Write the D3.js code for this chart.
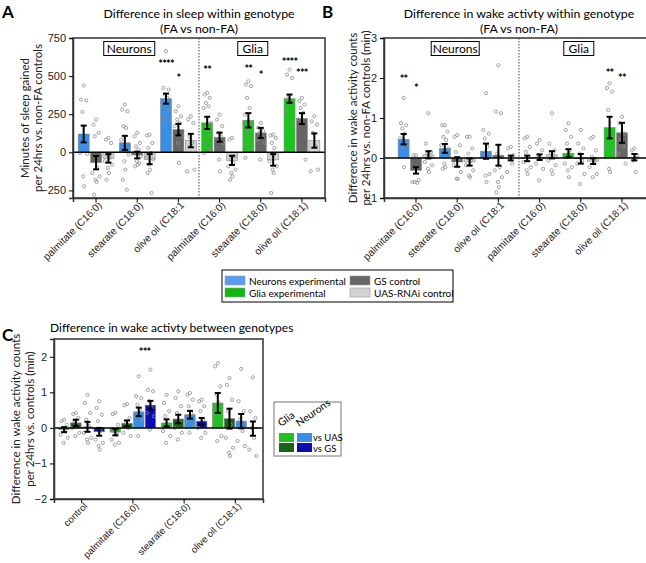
<!DOCTYPE html>
<html>
<head>
<meta charset="utf-8">
<script src="https://cdn.jsdelivr.net/npm/d3@7"></script>
<style>
body { margin: 0; background: #fff; }
svg { font-family: Lato, "Open Sans", sans-serif; }
</style>
</head>
<body>
<script>
var width = 646,
    height = 563;

// ---- data: panels A and B ----
var groupLabels = ["palmitate (C16:0)", "stearate (C18:0)", "olive oil (C18:1",
                   "palmitate (C16:0)", "stearate (C18:0)", "olive oil (C18:1)"];
var barSeries = ["experimental", "GS control", "UAS-RNAi control"];

var sleepMean = [[120, -68, -40], [62, -18, -45], [352, 149, 77], [193, 99, -53], [210, 127, -50], [352, 221, 77]];
var sleepSem = [[55, 44, 28], [46, 22, 33], [33, 38, 44], [40, 30, 30], [47, 33, 38], [27, 36, 47]];
var sleepPoints = [
  [[438, 346, 340, 265, 55, -5, -10, -158, -223],
   [215, 182, 127, 105, -103, -136, -158, -180, -195, -278],
   [94, 83, 61, -15, -37, -59, -81, -103, -136, -180]],
  [[313, 280, 269, 171, 160, 83, -15, -59, -114, -180, -245],
   [127, 105, 61, 39, 18, -4, -26, -59, -81, -92, -70],
   [116, 110, 61, 28, -4, -37, -48, -81, -114, -136, -267]],
  [[664, 423, 412, 379, 357, 324, 280, 215],
   [302, 269, 236, 215, 193, 171, 105, 61, -70],
   [236, 215, 193, 105, 61, -125, -114]],
  [[390, 379, 357, 324, 302, 291, 193, 149, 105, 61, 18, -4],
   [247, 215, 171, 127, 105, 83, 61, -48, -125],
   [94, 83, -26, -48, -70, -92, -114, -136, -158, -180]],
  [[466, 445, 434, 357, 291, 247, 193, 149, 105, 61, 18, -37],
   [193, 160, 138, 127, 105, 83, 61, -48],
   [116, 110, 94, 61, 28, -59, -92, -114, -136, -267]],
  [[543, 510, 488, 368, 324, 269, 193],
   [357, 335, 313, 291, 258, 215, -48],
   [236, 204, 182, 127, 39, -125, -114]]
];
// [group, bar, label, value]
var sleepStars = [[2, 0, "****", 590], [2, 1, "*", 500], [3, 0, "**", 555], [4, 0, "**", 560],
                  [4, 1, "*", 520], [5, 0, "****", 605], [5, 1, "***", 535]];

var wakeMean = [[0.47, -0.31, 0.08], [0.24, -0.1, -0.1], [0.17, 0.07, 0], [-0.01, 0.02, 0.08], [0.12, -0.02, -0.08], [0.76, 0.63, 0.02]];
var wakeSem = [[0.13, 0.08, 0.09], [0.11, 0.12, 0.09], [0.19, 0.26, 0.06], [0.07, 0.07, 0.09], [0.1, 0.12, 0.07], [0.27, 0.25, 0.08]];
var wakePoints = [
  [[1.5, 0.87, 0.82, 0.74, 0.61, 0.49, 0.36, 0.28, -0.23],
   [0.07, 0.07, -0.55, -0.6, -0.62, -0.6],
   [1.12, 0.36, 0.15, 0.11, 0.03, -0.1, -0.18, -0.27, -0.35]],
  [[0.82, 0.82, 0.66, 0.53, 0.45, 0.32, 0.24, -0.14, -0.23, -0.27],
   [0.57, 0.53, 0.32, 0.15, -0.02, -0.18, -0.35, -0.52, -0.52],
   [0.53, 0.53, 0.24, 0.11, -0.06, -0.18, -0.31, -0.44, -0.48]],
  [[1.62, 0.7, 0.61, 0.49, 0.28, 0.07, -0.4, -0.44, -0.6],
   [2.32, 1.16, 1.12, 0.11, -0.23, -0.31, -0.48, -0.6, -0.73, -0.86],
   [0.28, 0.24, 0.07, -0.02, -0.14, -0.35]],
  [[0.53, 0.49, 0.28, 0.15, 0.03, -0.1, -0.23, -0.31, -0.4],
   [0.45, 0.36, 0.19, 0.07, -0.02, -0.14, -0.27, -0.56],
   [1.12, 0.36, 0.19, 0.11, 0.07, -0.06, -0.18, -0.31, -0.4]],
  [[0.87, 0.7, 0.53, 0.36, 0.19, -0.14, -0.23, -0.31, -0.48],
   [0.7, 0.36, 0.24, 0.11, -0.06, -0.14, -0.4, -0.65],
   [0.53, 0.49, 0.19, 0.03, -0.1, -0.23, -0.4, -0.48]],
  [[1.87, 1.75, 1.66, 1.2, 0.53, 0.28, 0.15, -0.27, -0.35],
   [1.03, 0.87, 0.61, 0.45, 0.28, 0.11, -0.14],
   [0.24, 0.19, 0.07, -0.06, -0.35]]
];
var wakeStars = [[0, 0, "**", 2.02], [0, 1, "*", 1.8], [5, 0, "**", 2.17], [5, 1, "**", 2.05]];

// ---- data: panel C ----
var compLabels = ["control", "palmitate (C16:0)", "stearate (C18:0)", "olive oil (C18:1)"];
var compSeries = ["Glia vs UAS", "Glia vs GS", "Neurons vs UAS", "Neurons vs GS"];
var compMean = [[-0.05, 0.14, 0.03, -0.11], [-0.12, 0.13, 0.45, 0.64], [0.14, 0.25, 0.37, 0.19], [0.7, 0.26, 0.19, -0.02]];
var compSem = [[0.07, 0.09, 0.14, 0.11], [0.09, 0.08, 0.12, 0.12], [0.1, 0.12, 0.11, 0.09], [0.28, 0.28, 0.2, 0.2]];
var compPoints = [
  [[0.23, 0.19, 0.09, 0, -0.09, -0.19, -0.28, -0.42],
   [0.42, 0.39, 0.28, 0.19, 0.09, 0, -0.14, -0.23],
   [0.93, 0.7, 0.42, 0.23, 0.05, -0.14, -0.28, -0.33, -0.42],
   [0.75, 0.56, 0.37, 0.19, -0.09, -0.33, -0.42, -0.51, -0.61]],
  [[0.42, 0.39, 0.09, -0.09, -0.19, -0.33, -0.42, -0.47],
   [0.67, 0.64, 0.28, 0.14, 0, -0.14, -0.23],
   [1.45, 0.89, 0.84, 0.65, 0.51, 0.37, 0.23, -0.23],
   [1.64, 1.07, 1.03, 0.75, 0.56, 0.42, 0.33, -0.05]],
  [[0.93, 0.7, 0.47, 0.33, 0.09, -0.09, -0.23, -0.42],
   [1.03, 0.84, 0.61, 0.42, 0.19, 0, -0.14, -0.33],
   [0.98, 0.93, 0.79, 0.61, 0.42, 0.19, 0.05, -0.14],
   [0.79, 0.75, 0.61, 0.47, 0.23, 0, -0.14, -0.28]],
  [[1.82, 1.73, 1.17, 0.93, 0.7, 0.33, -0.23, -0.37],
   [1.4, 1.21, 0.79, 0.47, 0.09, -0.28, -0.56, -0.7, -0.79],
   [1.66, 0.75, 0.47, 0.23, -0.09, -0.37, -0.51],
   [1.42, 0.47, 0.28, 0, -0.28, -0.61, -0.79]]
];
var compStars = [[1, 2.5, "***", 2.2]];

var neuronBlue = "#3a8ee6", gliaGreen = "#1ec41e", gsGray = "#666666", uasGray = "#d3d3d3";
var compColors = ["#22c022", "#1a641a", "#3a8ee6", "#0c0cb4"];

var svg = d3.select("body").append("svg")
    .attr("width", width)
    .attr("height", height);

function jitter(i) {
  var p = [0, -2.6, 2.6, -1.3, 1.3, -3.6, 3.6, -0.5, 0.5, -2, 2, -3, 3];
  return p[i % p.length];
}

function drawAxes(g, x, y, labels, yTicks, left, right, top, bottom, labelSize) {
  g.append("rect")
      .attr("x", left).attr("y", top)
      .attr("width", right - left).attr("height", bottom - top)
      .attr("fill", "none").attr("stroke", "#333").attr("stroke-width", 1.5);

  var ya = g.append("g")
      .attr("transform", "translate(" + left + ",0)")
      .call(d3.axisLeft(y).tickValues(yTicks).tickSize(4).tickFormat(d3.format("d")));
  ya.select(".domain").attr("stroke", "#333").attr("stroke-width", 1.5);
  ya.selectAll("text").style("font-size", "11px").attr("fill", "#222");

  var xa = g.append("g")
      .attr("transform", "translate(0," + bottom + ")")
      .call(d3.axisBottom(x).tickSize(4).tickFormat(function(d) { return labels[d]; }));
  xa.select(".domain").attr("stroke", "#333").attr("stroke-width", 1.5);
  xa.selectAll("text")
      .style("font-size", labelSize + "px").attr("fill", "#222")
      .attr("text-anchor", "end")
      .attr("dx", "-0.1em").attr("dy", "0.3em")
      .attr("transform", "rotate(-45)");
}

function drawBars(g, x, y, means, sems, points, colorOf, barStep, barW, nBars) {
  var x0 = function(gi, bi) { return x(gi) + x.bandwidth() / 2 + (bi - (nBars - 1) / 2) * barStep; };
  var flat = [];
  means.forEach(function(row, gi) {
    row.forEach(function(m, bi) {
      flat.push({g: gi, b: bi, m: m, s: sems[gi][bi], pts: points[gi][bi]});
    });
  });
  g.selectAll(".bar").data(flat).enter().append("rect")
      .attr("x", function(d) { return x0(d.g, d.b) - barW / 2; })
      .attr("y", function(d) { return y(Math.max(0, d.m)); })
      .attr("width", barW)
      .attr("height", function(d) { return Math.abs(y(d.m) - y(0)); })
      .attr("fill", function(d) { return colorOf(d.g, d.b); })
      .attr("stroke", "#8a8a8a").attr("stroke-width", 0.6);

  flat.forEach(function(d) {
    g.selectAll(null).data(d.pts).enter().append("circle")
        .attr("cx", function(v, i) { return x0(d.g, d.b) + jitter(i); })
        .attr("cy", function(v) { return y(v); })
        .attr("r", 1.6)
        .attr("fill", "none").attr("stroke", "#8c8c8c").attr("stroke-width", 0.8);
  });

  var eb = g.selectAll(".err").data(flat).enter().append("g");
  eb.append("line")
      .attr("x1", function(d) { return x0(d.g, d.b); })
      .attr("x2", function(d) { return x0(d.g, d.b); })
      .attr("y1", function(d) { return y(d.m - d.s); })
      .attr("y2", function(d) { return y(d.m + d.s); })
      .attr("stroke", "#000").attr("stroke-width", 2);
  [-1, 1].forEach(function(sign) {
    eb.append("line")
        .attr("x1", function(d) { return x0(d.g, d.b) - 3; })
        .attr("x2", function(d) { return x0(d.g, d.b) + 3; })
        .attr("y1", function(d) { return y(d.m + sign * d.s); })
        .attr("y2", function(d) { return y(d.m + sign * d.s); })
        .attr("stroke", "#000").attr("stroke-width", 2);
  });
  return x0;
}

function drawStars(g, x0, y, stars) {
  g.selectAll(".star").data(stars).enter().append("text")
      .attr("x", function(d) { return x0(d[0], d[1]); })
      .attr("y", function(d) { return y(d[3]) + 6; })
      .attr("text-anchor", "middle")
      .style("font-size", "11px").style("font-weight", "bold")
      .style("letter-spacing", "-0.8px")
      .text(function(d) { return d[2]; });
}

function labelBox(g, cx, cy, w, text) {
  g.append("rect").attr("x", cx - w / 2).attr("y", cy - 7).attr("width", w).attr("height", 14)
      .attr("fill", "#fff").attr("stroke", "#000").attr("stroke-width", 1);
  g.append("text").attr("x", cx).attr("y", cy + 4.5).attr("text-anchor", "middle")
      .style("font-size", "12px").text(text);
}

function yTitle(g, x, y, lines, gap) {
  lines.forEach(function(t, i) {
    g.append("text")
        .attr("transform", "translate(" + (x + i * gap) + "," + y + ") rotate(-90)")
        .attr("text-anchor", "middle")
        .style("font-size", "11.5px").attr("fill", "#222")
        .text(t);
  });
}

function withinPanel(opt) {
  var g = svg.append("g");
  var x = d3.scaleBand().domain(d3.range(6)).range([opt.left, opt.right]).paddingOuter(opt.pad).paddingInner(0);
  var y = d3.scaleLinear().domain(opt.domain).range([opt.bottom, opt.top]);
  var colorOf = function(gi, bi) {
    if (bi === 0) return gi < 3 ? neuronBlue : gliaGreen;
    return bi === 1 ? gsGray : uasGray;
  };
  var x0 = drawBars(g, x, y, opt.mean, opt.sem, opt.points, colorOf, 12.4, 11, 3);
  g.append("line").attr("x1", opt.left).attr("x2", opt.right)
      .attr("y1", y(0)).attr("y2", y(0)).attr("stroke", "#000").attr("stroke-width", 1.5);
  var mid = (x(2) + x.bandwidth() + x(3)) / 2;
  g.append("line").attr("x1", mid).attr("x2", mid).attr("y1", opt.top).attr("y2", opt.bottom)
      .attr("stroke", "#444").attr("stroke-width", 1).attr("stroke-dasharray", "1.5,1.5");
  drawAxes(g, x, y, groupLabels, opt.ticks, opt.left, opt.right, opt.top, opt.bottom, 10.2);
  drawStars(g, x0, y, opt.stars);
  labelBox(g, x(1) + x.bandwidth() / 2 + opt.boxShift, 48.5, opt.nw, "Neurons");
  labelBox(g, x(4) + x.bandwidth() / 2 + opt.boxShift, 48.5, 30, "Glia");
  g.append("text").attr("x", opt.letterX).attr("y", 18).style("font-size", "17px")
      .style("font-weight", "bold").text(opt.letter);
  g.append("text").attr("x", mid).attr("y", 18).attr("text-anchor", "middle")
      .style("font-size", "12.3px").text(opt.title);
  g.append("text").attr("x", mid).attr("y", 33).attr("text-anchor", "middle")
      .style("font-size", "12.3px").text("(FA vs non-FA)");
  yTitle(g, opt.ylabX, (opt.top + opt.bottom) / 2, opt.ylab, 13);
}

withinPanel({
  left: 73, right: 325, top: 38, bottom: 198, pad: 0.06, domain: [-300, 750],
  ticks: [-250, 0, 250, 500, 750], mean: sleepMean, sem: sleepSem, points: sleepPoints,
  stars: sleepStars, boxShift: -8, nw: 51, letter: "A", letterX: 2,
  title: "Difference in sleep within genotype",
  ylab: ["Minutes of sleep gained", "per 24hrs vs. non-FA controls"], ylabX: 29
});

withinPanel({
  left: 384, right: 654, top: 38, bottom: 198, pad: 0.277, domain: [-1, 3],
  ticks: [-1, 0, 1, 2, 3], mean: wakeMean, sem: wakeSem, points: wakePoints,
  stars: wakeStars, boxShift: -2, nw: 48, letter: "B", letterX: 322,
  title: "Difference in wake activty within genotype",
  ylab: ["Difference in wake activity counts", "per 24hrs vs. non-FA controls (min)"], ylabX: 357
});

// ---- legend for A/B ----
var legAB = svg.append("g");
legAB.append("rect").attr("x", 222).attr("y", 270).attr("width", 231).attr("height", 32)
    .attr("fill", "#fff").attr("stroke", "#000").attr("stroke-width", 1);
var legItems = [["Neurons experimental", "#5a9cf0", 225, 276], ["GS control", gsGray, 350, 276],
                ["Glia experimental", "#12b812", 225, 288], ["UAS-RNAi control", uasGray, 350, 288]];
legItems.forEach(function(d) {
  legAB.append("rect").attr("x", d[2]).attr("y", d[3]).attr("width", 20).attr("height", 9)
      .attr("fill", d[1]).attr("stroke", "#999").attr("stroke-width", 0.6);
  legAB.append("text").attr("x", d[2] + 24).attr("y", d[3] + 8.5)
      .style("font-size", "10px").text(d[0]);
});

// ---- panel C ----
(function() {
  var left = 54, right = 263, top = 339, bottom = 499;
  var g = svg.append("g");
  var x = d3.scaleBand().domain(d3.range(4)).range([left, right]).paddingOuter(0.04).paddingInner(0);
  var y = d3.scaleLinear().domain([-2, 2.5]).range([bottom, top]);
  var x0 = drawBars(g, x, y, compMean, compSem, compPoints,
      function(gi, bi) { return compColors[bi]; }, 11.7, 10.5, 4);
  g.append("line").attr("x1", left).attr("x2", right)
      .attr("y1", y(0)).attr("y2", y(0)).attr("stroke", "#000").attr("stroke-width", 1.5);
  drawAxes(g, x, y, compLabels, [-2, -1, 0, 1, 2], left, right, top, bottom, 9.6);
  drawStars(g, x0, y, compStars);
  g.append("text").attr("x", 2).attr("y", 341).style("font-size", "17px")
      .style("font-weight", "bold").text("C");
  g.append("text").attr("x", 50).attr("y", 332)
      .style("font-size", "12px").text("Difference in wake activty between genotypes");
  yTitle(g, 20, (top + bottom) / 2, ["Difference in wake activity counts", "per 24hrs vs. controls (min)"], 14);

  var leg = svg.append("g");
  leg.append("rect").attr("x", 274).attr("y", 402).attr("width", 67).attr("height", 54)
      .attr("fill", "#fff").attr("stroke", "#777").attr("stroke-width", 1);
  [["Glia", 281], ["Neurons", 299]].forEach(function(d) {
    leg.append("text").attr("transform", "translate(" + d[1] + ",427) rotate(-35)")
        .style("font-size", "10.5px").text(d[0]);
  });
  compSeries.forEach(function(s, i) {
    var col = i < 2 ? 0 : 1, row = i % 2;
    leg.append("rect").attr("x", 279 + col * 18).attr("y", 433 + row * 10)
        .attr("width", 15).attr("height", 9).attr("fill", compColors[i]);
  });
  ["vs UAS", "vs GS"].forEach(function(t, i) {
    leg.append("text").attr("x", 313).attr("y", 440.5 + i * 11.5)
        .style("font-size", "9.5px").text(t);
  });
})();
</script>
</body>
</html>
